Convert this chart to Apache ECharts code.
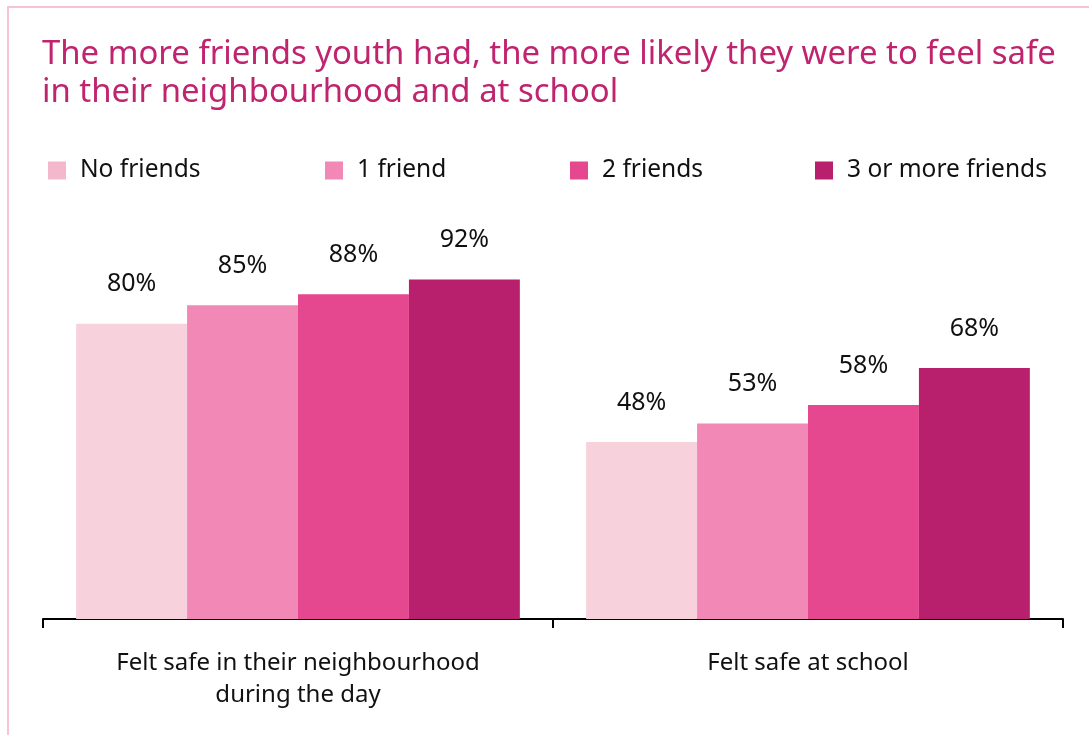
<!DOCTYPE html>
<html>
<head>
<meta charset="utf-8">
<script src="https://cdn.jsdelivr.net/npm/echarts@6/dist/echarts.min.js"></script>
<style>
  html, body { margin: 0; padding: 0; background: #fff; }
  #chart { width: 1089px; height: 735px; }
</style>
</head>
<body>
<div id="chart"></div>
<script>
// Share of youth who felt safe, by number of friends
const categories = [
  'Felt safe in their neighbourhood\nduring the day',
  'Felt safe at school'
];
const seriesNames = ['No friends', '1 friend', '2 friends', '3 or more friends'];
const noFriends = [80, 48];
const oneFriend = [85, 53];
const twoFriends = [88, 58];
const threePlusFriends = [92, 68];

const barColors = ['#f7d1dc', '#f288b5', '#e64890', '#b81f6c'];
const legendColors = ['#f4b8cc', '#f288b5', '#e64890', '#b81f6c'];
const legendLefts = [43, 320, 565, 810];
const FONT = '"Noto Sans", "Open Sans", sans-serif';

const values = [noFriends, oneFriend, twoFriends, threePlusFriends];

const chart = echarts.init(document.getElementById('chart'));

// one legend block per series so each sits in its own column
const legends = seriesNames.map((n, i) => ({
  top: 153,
  left: legendLefts[i],
  itemWidth: 18,
  itemHeight: 18,
  icon: 'rect',
  selectedMode: false,
  textStyle: { fontSize: 24.5, color: '#111', padding: [0, 0, 0, 9] },
  data: [{ name: n, itemStyle: { color: legendColors[i] } }]
}));

chart.setOption({
  animation: false,
  textStyle: { fontFamily: FONT },
  title: {
    text: 'The more friends youth had, the more likely they were to feel safe\nin their neighbourhood and at school',
    left: 37,
    top: 31,
    textStyle: {
      fontFamily: FONT,
      fontSize: 32.9,
      fontWeight: 'normal',
      color: '#c0246f',
      lineHeight: 38
    }
  },
  legend: legends,
  grid: { left: 43, right: 26, top: 250, bottom: 116 },
  xAxis: {
    type: 'category',
    data: categories,
    axisLine: { lineStyle: { color: '#000', width: 2 } },
    axisTick: { show: true, length: 9, lineStyle: { color: '#000', width: 2 } },
    axisLabel: { fontSize: 24, color: '#111', lineHeight: 32, margin: 28 }
  },
  yAxis: {
    type: 'value',
    min: 0,
    max: 100,
    show: false
  },
  series: seriesNames.map((name, i) => ({
    name,
    type: 'bar',
    data: values[i],
    barGap: '0%',
    barCategoryGap: '13%',
    itemStyle: { color: barColors[i] },
    label: {
      show: true,
      position: 'top',
      distance: 27,
      formatter: '{c}%',
      fontSize: 25,
      color: '#111'
    }
  })),
  graphic: [{
    type: 'rect',
    shape: { x: 8, y: 7, width: 1100, height: 760 },
    style: { fill: 'none', stroke: '#f7c3d5', lineWidth: 2 },
    silent: true
  }]
});
</script>
</body>
</html>
